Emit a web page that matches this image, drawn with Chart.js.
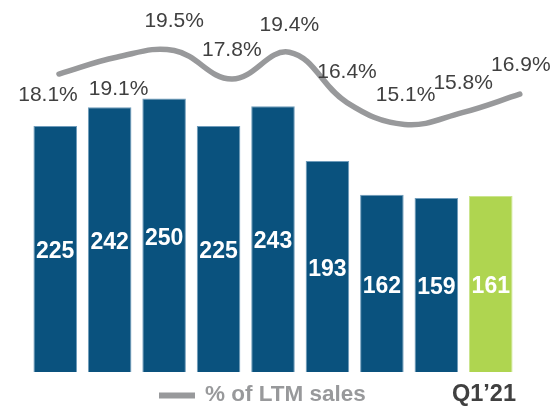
<!DOCTYPE html>
<html>
<head>
<meta charset="utf-8">
<script src="https://cdn.jsdelivr.net/npm/chart.js@4.4.1/dist/chart.umd.min.js"></script>
<style>
  html, body { margin: 0; padding: 0; background: #fff; }
  canvas { display: block; }
</style>
</head>
<body>
<canvas id="capexChart" width="554" height="406"></canvas>
<script>
const periods = ["P1", "P2", "P3", "P4", "P5", "P6", "P7", "P8", "Q1'21"];
const amounts = [225, 242, 250, 225, 243, 193, 162, 159, 161];
const pctOfSales = [18.1, 19.1, 19.5, 17.8, 19.4, 16.4, 15.1, 15.8, 16.9];
const pctLabels = ["18.1%", "19.1%", "19.5%", "17.8%", "19.4%", "16.4%", "15.1%", "15.8%", "16.9%"];
const legendText = "% of LTM sales";
const lastLabel = "Q1\u201921";

const BLUE = "#0a527e";
const GREEN = "#afd550";
const GREY = "#98999b";
const TEXT = "#404040";

// label nudges (px) relative to each line point
const pctDx = [-11, 2, 0, 0, 0, 0, 1, 1, 1];
const pctDy = [21, 32, -29, -29, -27, -30, -29, -29, -29];

const labelsPlugin = {
  id: "labels",
  afterDatasetsDraw(chart) {
    const ctx = chart.ctx;
    ctx.save();
    ctx.textAlign = "center";
    ctx.textBaseline = "middle";

    // values inside the bars
    ctx.font = "bold 23px 'Liberation Sans', Arial, sans-serif";
    ctx.fillStyle = "#ffffff";
    chart.getDatasetMeta(0).data.forEach((bar, i) => {
      ctx.fillText(String(amounts[i]), bar.x, (bar.y + bar.base) / 2 + 3);
    });

    // percentages around the line
    ctx.font = "21px 'Liberation Sans', Arial, sans-serif";
    ctx.fillStyle = TEXT;
    chart.getDatasetMeta(1).data.forEach((pt, i) => {
      ctx.fillText(pctLabels[i], pt.x + pctDx[i], pt.y + pctDy[i]);
    });
    ctx.restore();
  },
  afterDraw(chart) {
    const ctx = chart.ctx;
    ctx.save();
    // legend
    ctx.strokeStyle = GREY;
    ctx.lineWidth = 6;
    ctx.beginPath();
    ctx.moveTo(159, 395.5);
    ctx.lineTo(195, 395.5);
    ctx.stroke();
    ctx.textBaseline = "middle";
    ctx.font = "bold 22.5px 'Liberation Sans', Arial, sans-serif";
    ctx.fillStyle = GREY;
    ctx.textAlign = "left";
    ctx.fillText(legendText, 205, 395);
    // last period label
    ctx.font = "bold 23.5px 'Liberation Sans', Arial, sans-serif";
    ctx.fillStyle = TEXT;
    ctx.textAlign = "right";
    ctx.fillText(lastLabel, 516, 395);
    ctx.restore();
  }
};

new Chart(document.getElementById("capexChart"), {
  type: "bar",
  data: {
    labels: periods,
    datasets: [
      {
        label: "Amount",
        data: amounts,
        backgroundColor: amounts.map((v, i) => i === amounts.length - 1 ? GREEN : BLUE),
        borderColor: amounts.map((v, i) => i === amounts.length - 1 ? "#cbe58e" : "#6f9cbb"),
        borderWidth: { top: 1, left: 1, right: 1, bottom: 0 },
        borderSkipped: false,
        grouped: false,
        barPercentage: 0.8,
        categoryPercentage: 1,
        order: 1
      },
      {
        type: "line",
        label: legendText,
        data: pctOfSales.map((v, i) => ({ x: i, y: v })),
        xAxisID: "x2",
        yAxisID: "y2",
        borderColor: GREY,
        borderWidth: 5.5,
        borderCapStyle: "round",
        tension: 0.4,
        pointRadius: 0,
        fill: false,
        clip: false,
        order: 0
      }
    ]
  },
  options: {
    responsive: false,
    animation: false,
    devicePixelRatio: 1,
    layout: { padding: { left: 28, right: 36, top: 10, bottom: 34 } },
    plugins: {
      legend: { display: false },
      tooltip: { enabled: false }
    },
    scales: {
      x: { display: false },
      y: { display: false, min: 0, max: 331 },
      x2: { type: "linear", display: false, offset: false, min: -0.538, max: 7.969 },
      y2: { display: false, min: 0.363, max: 21.911 }
    }
  },
  plugins: [labelsPlugin]
});
</script>
</body>
</html>
